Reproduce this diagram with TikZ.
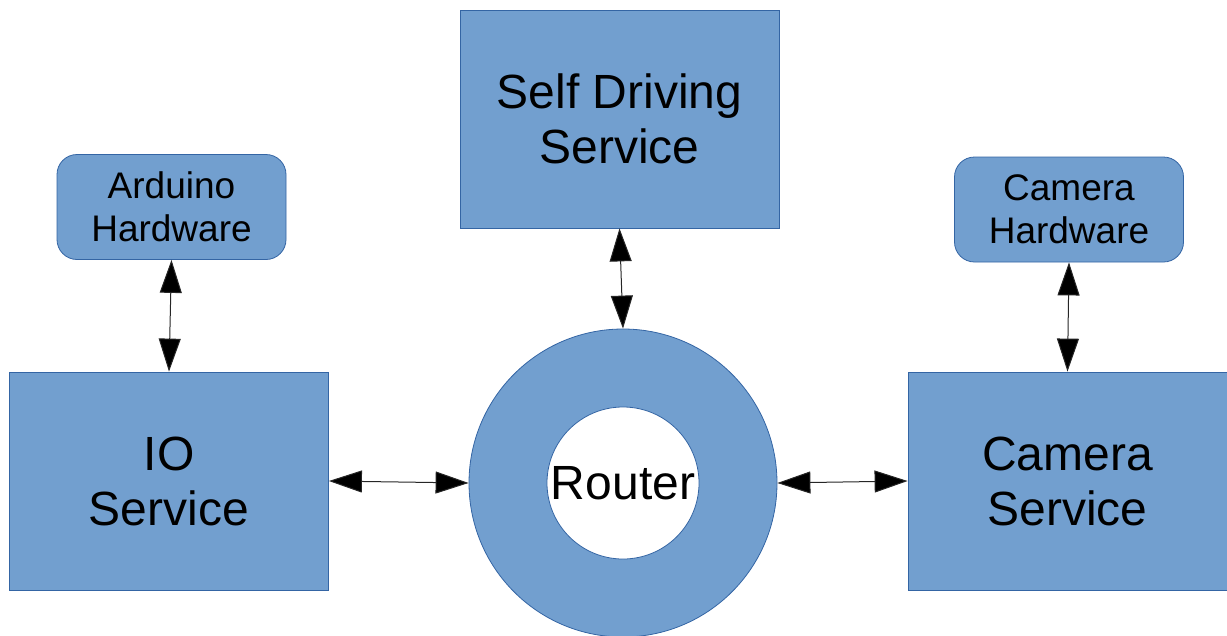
\documentclass[tikz,border=0pt]{standalone}
\usepackage{fontspec}
\setmainfont{Liberation Sans}
\usetikzlibrary{arrows.meta}
\definecolor{boxfill}{HTML}{729FCF}
\definecolor{boxline}{HTML}{3465A4}
\tikzset{
  bigbox/.style={rectangle, fill=boxfill, draw=boxline, line width=0.8pt,
    minimum width=319pt, minimum height=218pt, align=center, inner sep=0pt,
    font=\fontsize{48}{55}\selectfont},
  hwbox/.style={rectangle, rounded corners=20pt, fill=boxfill, draw=boxline, line width=0.8pt,
    minimum width=229pt, minimum height=105pt, align=center, inner sep=0pt,
    font=\fontsize{37}{43}\selectfont},
  link/.style={line width=1pt, draw=black!85,
    {Triangle[length=33pt,width=22pt,fill=black]}-{Triangle[length=33pt,width=22pt,fill=black]}}
}
\begin{document}
\begin{tikzpicture}[x=1pt,y=-1pt]
\useasboundingbox (0,0) rectangle (1227,635);
\clip (0,0) rectangle (1227,635);
\node[bigbox] (self) at (619.5,119) {Self Driving\\Service};
\node[bigbox] (io) at (169,481) {IO\\Service};
\node[bigbox] (cam) at (1067.5,481) {Camera\\Service};
\node[hwbox] (ard) at (171.5,207) {Arduino\\Hardware};
\node[hwbox] (camhw) at (1069,209.5) {Camera\\Hardware};
\node[circle, fill=boxfill, draw=boxline, line width=0.8pt, minimum size=308pt, inner sep=0pt] (router) at (623,483) {};
\node[circle, fill=white, draw=boxline, line width=0.8pt, minimum size=152pt, inner sep=0pt,
  font=\fontsize{48}{55}\selectfont] (routerin) at (623,483) {Router};
\draw[link] (ard.south) -- (io.north);
\draw[link] (self.south) -- (router.north);
\draw[link] (io.east) -- (router.west);
\draw[link] (router.east) -- (cam.west);
\draw[link] (camhw.south) -- (cam.north);
\end{tikzpicture}
\end{document}
